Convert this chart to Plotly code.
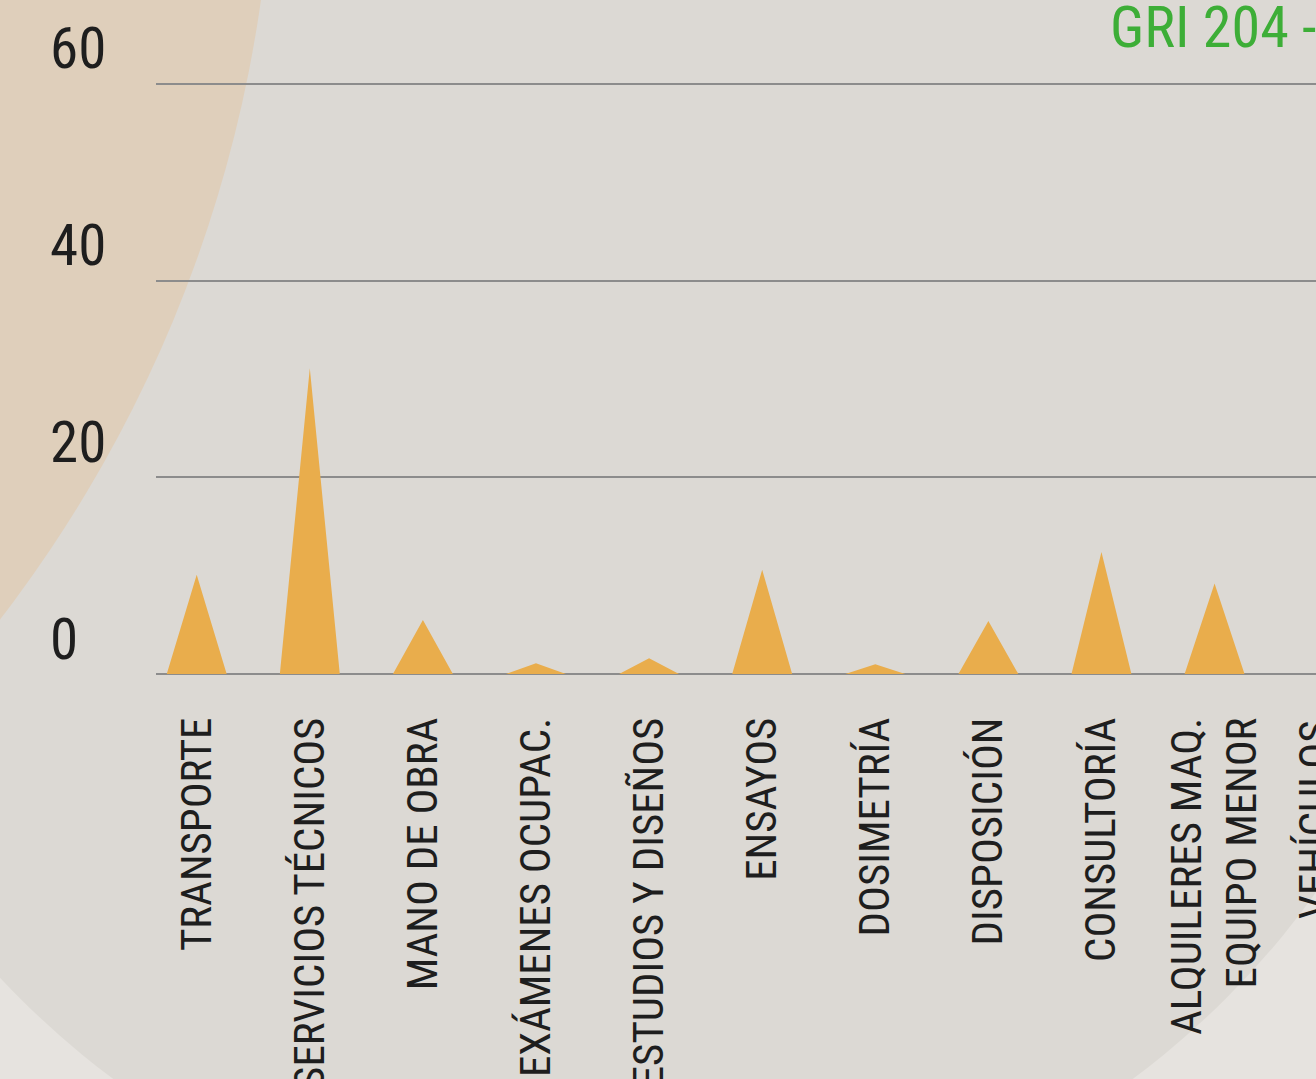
import plotly.graph_objects as go

# ---- data ----
categories = [
    "TRANSPORTE",
    "SERVICIOS TÉCNICOS",
    "MANO DE OBRA",
    "EXÁMENES OCUPAC.",
    "ESTUDIOS Y DISEÑOS",
    "ENSAYOS",
    "DOSIMETRÍA",
    "DISPOSICIÓN",
    "CONSULTORÍA",
    "ALQUILERES MAQ.<br>EQUIPO MENOR",
    "VEHÍCULOS",
]
values = [10.1, 31.1, 5.5, 1.1, 1.6, 10.6, 1.0, 5.4, 12.4, 9.2]
y_ticks = [0, 20, 40, 60]
y_tick_labels = ["0", "20", "40", "60"]
title_text = "GRI 204 -"

# ---- style ----
W, H = 1316, 1079
ML, MR, MT, MB = 156, 0, 0, 405
FONT = "Roboto Condensed, Liberation Sans Narrow, DejaVu Sans Condensed, sans-serif"
ORANGE = "#e9ad4c"
GRID = "#8c8c8c"
TEXT = "#1e1e1e"
X_RANGE = [-0.36, 9.897]
Y_RANGE = [0, 68.54]
HALF_BASE = 0.265
LABEL_SIZE = 43

# triangles built from category index and value
tx, ty = [], []
for i, v in enumerate(values):
    tx += [i - HALF_BASE, i, i + HALF_BASE, None]
    ty += [0, v, 0, None]

fig = go.Figure()
fig.add_trace(go.Scatter(
    x=tx, y=ty, mode="lines", fill="toself", fillcolor=ORANGE,
    line=dict(width=0, color=ORANGE), hoverinfo="skip", showlegend=False,
))

pw = W - ML - MR
ph = H - MT - MB

def px_to_paper_x(px):
    return (px - ML) / pw

def py_to_paper_y(py):
    return (H - MB - py) / ph

shapes = [
    # large grey disc
    dict(type="circle", xref="paper", yref="paper", layer="below",
         x0=px_to_paper_x(623 - 853), x1=px_to_paper_x(623 + 853),
         y0=py_to_paper_y(395 + 853), y1=py_to_paper_y(395 - 853),
         fillcolor="#dcd9d4", line=dict(width=0)),
    # tan disc top-left
    dict(type="circle", xref="paper", yref="paper", layer="below",
         x0=px_to_paper_x(-1044 - 1318), x1=px_to_paper_x(-1044 + 1318),
         y0=py_to_paper_y(-185 + 1318), y1=py_to_paper_y(-185 - 1318),
         fillcolor="#dfcfbb", line=dict(width=0)),
]

annotations = []
for v, t in zip(y_ticks, y_tick_labels):
    annotations.append(dict(
        x=0, xref="paper", y=v, yref="y", text=t, showarrow=False,
        xanchor="left", yanchor="middle", xshift=-108, yshift=35,
        font=dict(family=FONT, size=57, color=TEXT),
    ))
annotations.append(dict(
    x=px_to_paper_x(1108), xref="paper", y=py_to_paper_y(27), yref="paper",
    text=title_text, showarrow=False, xanchor="left", yanchor="middle",
    font=dict(family=FONT, size=58, color="#3dae37"),
))
# label of the next category, beyond the visible range
nxt = len(values)
annotations.append(dict(
    x=(nxt - X_RANGE[0]) / (X_RANGE[1] - X_RANGE[0]), xref="paper",
    y=0, yref="paper", yshift=-44, text=categories[nxt], showarrow=False,
    textangle=-90, xanchor="center", yanchor="top", xshift=-14,
    font=dict(family=FONT, size=LABEL_SIZE, color=TEXT),
))

fig.update_layout(
    width=W, height=H, autosize=False,
    margin=dict(l=ML, r=MR, t=MT, b=MB, pad=0),
    paper_bgcolor="#e6e3df", plot_bgcolor="rgba(0,0,0,0)",
    shapes=shapes, annotations=annotations, showlegend=False,
    xaxis=dict(
        range=X_RANGE, tickmode="array", automargin=False,
        tickvals=list(range(len(categories))), ticktext=categories,
        tickangle=-90, showgrid=False, zeroline=False, showline=False,
        ticks="", ticklabelstandoff=34,
        tickfont=dict(family=FONT, size=LABEL_SIZE, color=TEXT),
    ),
    yaxis=dict(
        range=Y_RANGE, tickmode="array", tickvals=y_ticks, automargin=False,
        showticklabels=False, showgrid=True, gridcolor=GRID, gridwidth=2,
        zeroline=True, zerolinecolor=GRID, zerolinewidth=2, showline=False,
    ),
)

fig.write_html(
    "out.html",
    config={"displayModeBar": False},
    post_script="document.body.style.margin='0';"
                "document.body.style.background='#e6e3df';",
)
